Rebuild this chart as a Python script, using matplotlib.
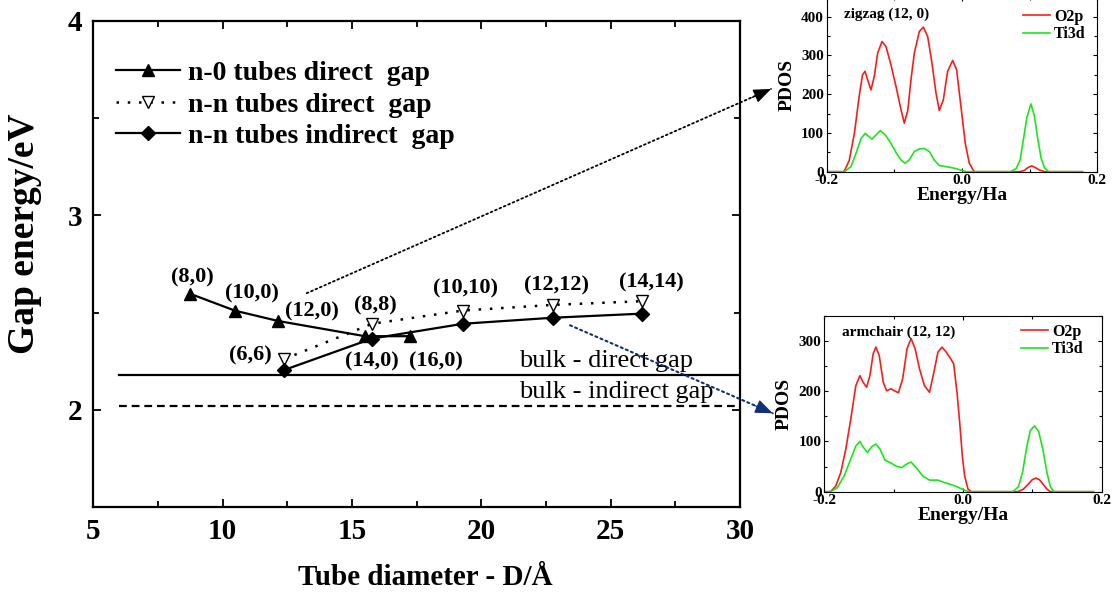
import matplotlib

matplotlib.use("Agg")
import matplotlib.pyplot as plt
from matplotlib.ticker import FormatStrFormatter, MultipleLocator

plt.rcParams["font.family"] = ["Liberation Serif", "DejaVu Serif"]
plt.rcParams["font.weight"] = "bold"
plt.rcParams["axes.labelweight"] = "bold"

# main panel: gap energy vs tube diameter
N0_DIAMETER = [8.74, 10.48, 12.15, 15.50, 17.24]
N0_DIRECT = [2.597, 2.510, 2.457, 2.379, 2.379]
N0_LABELS = ["(8,0)", "(10,0)", "(12,0)", "(14,0)", "(16,0)"]

NN_DIAMETER = [12.37, 15.78, 19.30, 22.78, 26.22]
NN_DIRECT = [2.261, 2.443, 2.511, 2.540, 2.559]
NN_INDIRECT = [2.205, 2.367, 2.443, 2.474, 2.495]
NN_LABELS = ["(6,6)", "(8,8)", "(10,10)", "(12,12)", "(14,14)"]

BULK_X = [6.0, 30.0]
BULK_DIRECT = 2.18
BULK_INDIRECT = 2.02

# where the tube labels sit (data coords)
N0_LABEL_POS = [(8.84, 2.682), (11.12, 2.597), (13.47, 2.508), (15.76, 2.250), (18.25, 2.250)]
NN_LABEL_POS = [(11.06, 2.281), (15.89, 2.537), (19.37, 2.622), (22.91, 2.639), (26.58, 2.656)]

# PDOS insets
ZIGZAG_O2P_E = [-0.200, -0.175, -0.172, -0.1665, -0.159, -0.152, -0.147, -0.1433, -0.1394, -0.1345,
                -0.1296, -0.1246, -0.1182, -0.1123, -0.105, -0.0975, -0.090, -0.0852, -0.080, -0.0754,
                -0.0704, -0.063, -0.0571, -0.0507, -0.0443, -0.0384, -0.0335, -0.0276, -0.0212, -0.0138,
                -0.0079, -0.0015, 0.0049, 0.0108, 0.018, 0.085, 0.092, 0.097, 0.103, 0.109, 0.115, 0.122, 0.178]
ZIGZAG_O2P = [0, 0, 8, 30, 99, 194, 250, 259, 237, 211,
              246, 306, 336, 323, 276, 220, 159, 125, 159, 237,
              306, 362, 373, 349, 280, 203, 158, 185, 259, 287,
              263, 168, 73, 22, 0, 0, 3, 10, 15, 10, 4, 0, 0]
ZIGZAG_TI3D_E = [-0.200, -0.174, -0.164, -0.1567, -0.149, -0.1429, -0.138, -0.133, -0.127, -0.1207,
                 -0.1133, -0.105, -0.0966, -0.090, -0.0842, -0.078, -0.0704, -0.063, -0.0557, -0.0483,
                 -0.0409, -0.0335, -0.0236, -0.0113, -0.0015, 0.006, 0.072, 0.080, 0.086, 0.091,
                 0.096, 0.1018, 0.107, 0.112, 0.117, 0.122, 0.128, 0.178]
ZIGZAG_TI3D = [0, 0, 13, 47, 86, 99, 91, 84, 95, 106,
               95, 73, 47, 30, 22, 30, 52, 59, 60, 52,
               30, 16, 13, 9, 4, 0, 0, 8, 30, 85,
               140, 175, 145, 85, 35, 10, 0, 0]

ARMCHAIR_O2P_E = [-0.200, -0.191, -0.1836, -0.1763, -0.169, -0.1618, -0.1546, -0.1488, -0.144, -0.1391,
                  -0.1343, -0.1295, -0.1256, -0.1208, -0.115, -0.1101, -0.1039, -0.099, -0.0932, -0.087,
                  -0.0807, -0.0749, -0.0691, -0.0628, -0.0556, -0.0483, -0.042, -0.0362, -0.0304, -0.0242,
                  -0.0193, -0.0135, -0.0087, -0.0048, -0.001, 0.0024, 0.0072, 0.012, 0.079, 0.087,
                  0.094, 0.100, 0.105, 0.110, 0.116, 0.121, 0.126, 0.188]
ARMCHAIR_O2P = [0, 0, 11, 38, 85, 145, 211, 231, 218, 208,
                231, 275, 288, 271, 218, 201, 205, 201, 197, 225,
                285, 305, 285, 245, 211, 198, 238, 278, 288, 278,
                268, 255, 198, 138, 71, 31, 5, 0, 0, 5,
                15, 24, 27, 24, 14, 5, 0, 0]
ARMCHAIR_TI3D_E = [-0.200, -0.191, -0.1812, -0.1715, -0.1618, -0.1546, -0.1488, -0.1435, -0.1377, -0.1314,
                   -0.1256, -0.1198, -0.1126, -0.1039, -0.0966, -0.0884, -0.0812, -0.0749, -0.0676, -0.058,
                   -0.0483, -0.0362, -0.0266, -0.0145, -0.0024, 0.0072, 0.072, 0.080, 0.086, 0.092,
                   0.097, 0.103, 0.109, 0.115, 0.121, 0.126, 0.131, 0.188]
ARMCHAIR_TI3D = [0, 0, 8, 31, 65, 91, 100, 88, 78, 90,
                 95, 85, 63, 57, 51, 48, 55, 59, 48, 31,
                 23, 23, 18, 13, 6, 0, 0, 10, 40, 90,
                 122, 131, 120, 85, 38, 10, 0, 0]

RED = "#ff1a1a"
GREEN = "#18e818"
NAVY = "#10307a"


def style_main(ax):
    ax.set_xlim(5, 30)
    ax.set_ylim(1.5, 4)
    ax.xaxis.set_major_locator(MultipleLocator(5))
    ax.xaxis.set_minor_locator(MultipleLocator(2.5))
    ax.set_yticks([2, 3, 4])
    ax.yaxis.set_minor_locator(MultipleLocator(0.5))
    ax.tick_params(which="both", direction="in", top=True, right=True, width=1.3)
    ax.tick_params(which="major", length=6, labelsize=21, pad=8)
    ax.tick_params(which="minor", length=4)
    for spine in ax.spines.values():
        spine.set_linewidth(1.6)
    ax.set_xlabel("Tube diameter - D/Å", fontsize=21)
    ax.set_ylabel("Gap energy/eV", fontsize=27)
    ax.xaxis.set_label_coords(0.514, -0.117)
    ax.yaxis.set_label_coords(-0.08, 0.563)


def pointer(ax, tip, start, color, lw, back):
    # dotted shaft, then a solid head placed just before the tip
    ax.annotate("", xy=tip, xycoords="figure fraction", xytext=start, textcoords="data",
                arrowprops=dict(arrowstyle="-", color=color, lw=lw, ls=":", shrinkA=0, shrinkB=0))
    ax.annotate("", xy=tip, xycoords="figure fraction", xytext=back, textcoords="offset points",
                arrowprops=dict(arrowstyle="-|>,head_length=0.55,head_width=0.22", color=color,
                                lw=0.8, mutation_scale=20, shrinkA=0, shrinkB=0))


def draw_main(fig, ax):
    ax.plot(BULK_X, [BULK_DIRECT] * 2, color="black", lw=1.6)
    ax.plot(BULK_X, [BULK_INDIRECT] * 2, color="black", lw=1.6, ls=(0, (3.5, 2.2)))
    ax.text(21.45, BULK_DIRECT + 0.04, "bulk - direct gap", fontsize=19, fontweight="normal", va="baseline")
    ax.text(21.45, BULK_INDIRECT + 0.04, "bulk - indirect gap", fontsize=19, fontweight="normal", va="baseline")

    ax.plot(N0_DIAMETER, N0_DIRECT, color="black", lw=1.6, marker="^", ms=9,
            label="n-0 tubes direct  gap")
    ax.plot(NN_DIAMETER, NN_DIRECT, color="black", lw=1.8, ls=(0, (1, 3.5)), marker="v", ms=9,
            mfc="white", mec="black", mew=1.0, label="n-n tubes direct  gap")
    ax.plot(NN_DIAMETER, NN_INDIRECT, color="black", lw=1.6, marker="D", ms=7.5,
            label="n-n tubes indirect  gap")

    for text, (x, y) in zip(N0_LABELS + NN_LABELS, N0_LABEL_POS + NN_LABEL_POS):
        ax.text(x, y, text, fontsize=16, ha="center", va="center")

    ax.legend(loc="upper left", bbox_to_anchor=(0.035, 0.918), frameon=False, fontsize=20,
              handlelength=2.3, handletextpad=0.3, labelspacing=0.22, borderpad=0, borderaxespad=0)

    # arrows pointing to the PDOS insets
    pointer(ax, (0.6915, 0.8512), (13.25, 2.60), "black", 1.3, (-13.7, -6.1))
    pointer(ax, (0.693, 0.3089), (23.43, 2.435), NAVY, 1.5, (-13.8, 6.0))


def draw_inset(ax, title, o2p_e, o2p, ti3d_e, ti3d, ymax, legend_anchor):
    ax.plot(o2p_e, o2p, color=RED, lw=1.2, label="O2p")
    ax.plot(ti3d_e, ti3d, color=GREEN, lw=1.2, label="Ti3d")
    ax.set_xlim(-0.2, 0.2)
    ax.set_ylim(0, ymax)
    ax.set_xticks([-0.2, 0.0, 0.2])
    ax.xaxis.set_minor_locator(MultipleLocator(0.1))
    ax.xaxis.set_major_formatter(FormatStrFormatter("%.1f"))
    ax.yaxis.set_major_locator(MultipleLocator(100))
    ax.yaxis.set_minor_locator(MultipleLocator(50))
    ax.tick_params(which="both", direction="in", top=True, right=True, width=0.8)
    ax.tick_params(which="major", length=3, labelsize=11, pad=2)
    ax.tick_params(which="minor", length=2)
    for spine in ax.spines.values():
        spine.set_linewidth(0.8)
    ax.set_xlabel("Energy/Ha", fontsize=14, labelpad=0)
    ax.set_ylabel("PDOS", fontsize=14, labelpad=4)
    ax.text(0.065, 0.905, title, transform=ax.transAxes, fontsize=11, va="center")
    ax.legend(loc="upper left", bbox_to_anchor=legend_anchor, frameon=False, fontsize=11.5,
              handlelength=1.7, handletextpad=0.25, labelspacing=0.1, borderaxespad=0, borderpad=0)


def main():
    fig = plt.figure(figsize=(11.15, 5.98), dpi=100)
    ax = fig.add_axes([0.0837, 0.1517, 0.58, 0.8137])
    style_main(ax)
    draw_main(fig, ax)

    zig = fig.add_axes([0.7414, 0.7129, 0.2427, 0.2916])
    draw_inset(zig, "zigzag (12, 0)", ZIGZAG_O2P_E, ZIGZAG_O2P, ZIGZAG_TI3D_E, ZIGZAG_TI3D, 450,
               (0.725, 0.935))
    arm = fig.add_axes([0.7393, 0.1778, 0.2488, 0.2938])
    draw_inset(arm, "armchair (12, 12)", ARMCHAIR_O2P_E, ARMCHAIR_O2P, ARMCHAIR_TI3D_E, ARMCHAIR_TI3D, 350,
               (0.708, 0.955))

    fig.savefig("out.png", dpi=100)
    plt.close(fig)


if __name__ == "__main__":
    main()
